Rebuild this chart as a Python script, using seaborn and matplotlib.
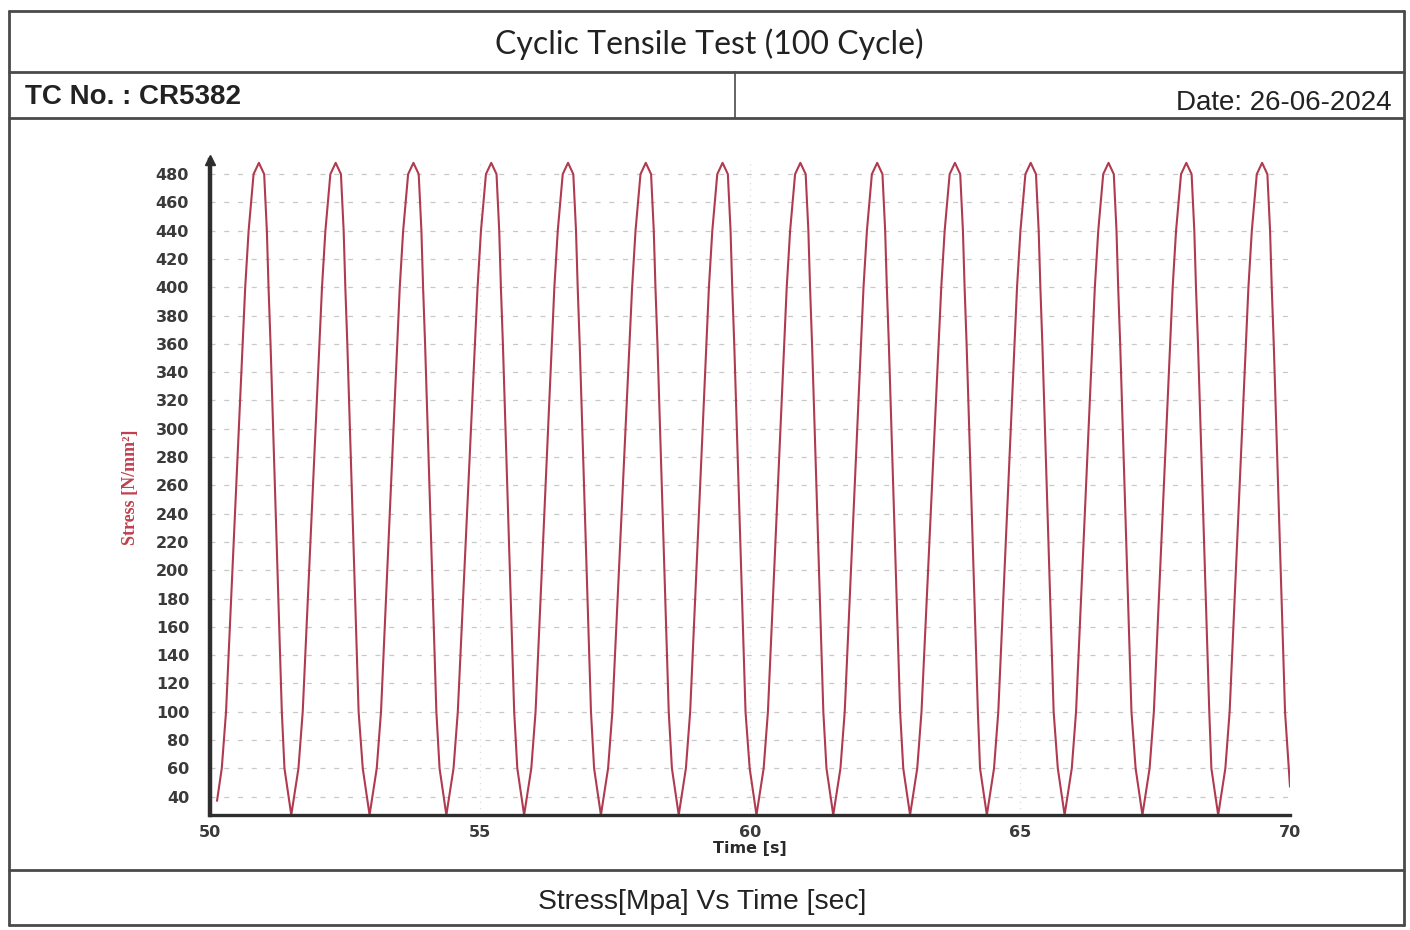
import matplotlib
matplotlib.use("Agg")
import matplotlib.pyplot as plt
from matplotlib.lines import Line2D
import seaborn as sns
import pandas as pd

# ---------------- data ----------------
time_s = [
    50.130, 50.218, 50.297, 50.604, 50.652, 50.715, 50.807, 50.905,
    51.003, 51.053, 51.084, 51.121, 51.330, 51.379, 51.505,
    51.638, 51.717, 52.026, 52.074, 52.137, 52.229, 52.327,
    52.425, 52.475, 52.506, 52.543, 52.752, 52.829, 52.955,
    53.088, 53.167, 53.466, 53.514, 53.577, 53.669, 53.767,
    53.865, 53.915, 53.946, 53.983, 54.192, 54.251, 54.377,
    54.510, 54.589, 54.907, 54.955, 55.018, 55.110, 55.208,
    55.306, 55.356, 55.387, 55.424, 55.633, 55.691, 55.817,
    55.950, 56.029, 56.329, 56.377, 56.440, 56.532, 56.630,
    56.728, 56.778, 56.809, 56.846, 57.055, 57.113, 57.239,
    57.372, 57.451, 57.769, 57.817, 57.880, 57.972, 58.070,
    58.168, 58.218, 58.249, 58.286, 58.495, 58.554, 58.680,
    58.813, 58.892, 59.191, 59.239, 59.302, 59.394, 59.492,
    59.590, 59.640, 59.671, 59.708, 59.917, 59.994, 60.120,
    60.253, 60.332, 60.632, 60.680, 60.743, 60.835, 60.933,
    61.031, 61.081, 61.112, 61.149, 61.358, 61.416, 61.542,
    61.675, 61.754, 62.054, 62.102, 62.165, 62.257, 62.355,
    62.453, 62.503, 62.534, 62.571, 62.780, 62.838, 62.964,
    63.097, 63.176, 63.494, 63.542, 63.605, 63.697, 63.795,
    63.893, 63.943, 63.974, 64.011, 64.220, 64.260, 64.386,
    64.519, 64.598, 64.897, 64.945, 65.008, 65.100, 65.198,
    65.296, 65.346, 65.377, 65.414, 65.623, 65.700, 65.826,
    65.959, 66.038, 66.338, 66.386, 66.449, 66.541, 66.639,
    66.737, 66.787, 66.818, 66.855, 67.064, 67.141, 67.267,
    67.400, 67.479, 67.779, 67.827, 67.890, 67.982, 68.080,
    68.178, 68.228, 68.259, 68.296, 68.505, 68.544, 68.670,
    68.803, 68.882, 69.182, 69.230, 69.293, 69.385, 69.483,
    69.581, 69.631, 69.662, 69.699, 69.908, 70.000,
]
stress = [
    37, 60, 100, 360, 400, 440, 480, 488,
    480, 440, 400, 360, 100, 60, 27,
    60, 100, 360, 400, 440, 480, 488,
    480, 440, 400, 360, 100, 60, 27,
    60, 100, 360, 400, 440, 480, 488,
    480, 440, 400, 360, 100, 60, 27,
    60, 100, 360, 400, 440, 480, 488,
    480, 440, 400, 360, 100, 60, 27,
    60, 100, 360, 400, 440, 480, 488,
    480, 440, 400, 360, 100, 60, 27,
    60, 100, 360, 400, 440, 480, 488,
    480, 440, 400, 360, 100, 60, 27,
    60, 100, 360, 400, 440, 480, 488,
    480, 440, 400, 360, 100, 60, 27,
    60, 100, 360, 400, 440, 480, 488,
    480, 440, 400, 360, 100, 60, 27,
    60, 100, 360, 400, 440, 480, 488,
    480, 440, 400, 360, 100, 60, 27,
    60, 100, 360, 400, 440, 480, 488,
    480, 440, 400, 360, 100, 60, 27,
    60, 100, 360, 400, 440, 480, 488,
    480, 440, 400, 360, 100, 60, 27,
    60, 100, 360, 400, 440, 480, 488,
    480, 440, 400, 360, 100, 60, 27,
    60, 100, 360, 400, 440, 480, 488,
    480, 440, 400, 360, 100, 60, 27,
    60, 100, 360, 400, 440, 480, 488,
    480, 440, 400, 360, 100, 47,
]
x_ticks = [50, 55, 60, 65, 70]
y_ticks = list(range(40, 481, 20))

title_text = "Cyclic Tensile Test (100 Cycle)"
tc_text = "TC No. : CR5382"
date_text = "Date: 26-06-2024"
footer_text = "Stress[Mpa] Vs Time [sec]"
x_label = "Time [s]"
y_label = "Stress [N/mm\u00b2]"

# ---------------- figure ----------------
sns.set_style("white")
plt.rcParams["font.family"] = ["DejaVu Sans"]

W, H = 1410, 930
fig = plt.figure(figsize=(W / 100, H / 100), dpi=100)
fig.patch.set_facecolor("white")


def fx(x):
    return x / W


def fy(y):
    return 1 - y / H


# table frame
frame_color = "#4a4a4a"
L, R = 9, 1404
for yy in (11, 72, 118, 870, 925):
    fig.add_artist(Line2D([fx(L), fx(R)], [fy(yy), fy(yy)], color=frame_color, lw=2.0))
for xx in (L, R):
    fig.add_artist(Line2D([fx(xx), fx(xx)], [fy(11), fy(925)], color=frame_color, lw=2.0))
fig.add_artist(Line2D([fx(735), fx(735)], [fy(72), fy(118)], color=frame_color, lw=1.2))

fig.text(fx(709), fy(44), title_text, ha="center", va="center", fontsize=23,
         family=["Lato", "DejaVu Sans"], color="#222222")
fig.text(fx(25), fy(97), tc_text, ha="left", va="center", fontsize=20,
         family=["Liberation Sans", "DejaVu Sans"], fontweight="bold", color="#222222")
fig.text(fx(1392), fy(103), date_text, ha="right", va="center", fontsize=20,
         family=["Liberation Sans", "DejaVu Sans"], color="#222222")
fig.text(fx(702), fy(902), footer_text, ha="center", va="center", fontsize=20.3,
         family=["Liberation Sans", "DejaVu Sans"], color="#222222")

# plot area
ax_left, ax_right, ax_top, ax_bottom = 210, 1290, 160, 815
ax = fig.add_axes([fx(ax_left), fy(ax_bottom), (ax_right - ax_left) / W, (ax_bottom - ax_top) / H])
ax.set_facecolor("white")

df = pd.DataFrame({"Time": time_s, "Stress": stress})
sns.lineplot(data=df, x="Time", y="Stress", ax=ax, color="#b03a50", linewidth=1.5,
             sort=False, estimator=None)

ax.set_xlim(50, 70)
ax.set_ylim(27, 490)
ax.set_xticks(x_ticks)
ax.set_yticks(y_ticks)
ax.set_xticklabels([str(v) for v in x_ticks])
ax.set_yticklabels([str(v) for v in y_ticks])

for side in ("top", "right"):
    ax.spines[side].set_visible(False)
ax.spines["left"].set_color("#2e2e2e")
ax.spines["left"].set_linewidth(3.2)
ax.spines["bottom"].set_color("#2e2e2e")
ax.spines["bottom"].set_linewidth(2.4)

ax.tick_params(axis="y", length=5, width=1, color="#888888", pad=10,
               labelsize=11.5, labelcolor="#3a3a3a")
ax.tick_params(axis="x", length=0, pad=7, labelsize=11.5, labelcolor="#3a3a3a")
for lab in ax.get_yticklabels() + ax.get_xticklabels():
    lab.set_fontweight("bold")

ax.yaxis.grid(True, color="#c8c8c8", linestyle=(0, (4, 7)), linewidth=0.9)
ax.xaxis.grid(True, color="#dddddd", linestyle=(0, (1, 4)), linewidth=0.9)
ax.set_axisbelow(True)

ax.set_xlabel(x_label, fontsize=11.5, fontweight="bold", color="#2a2a2a", labelpad=1)
ax.set_ylabel(y_label, fontsize=13, fontweight="bold", color="#c0404f",
              family=["Liberation Sans Narrow", "Liberation Serif", "DejaVu Sans"])
ax.yaxis.set_label_coords((139 - ax_left) / (ax_right - ax_left), 0.50)

# small arrow head on top of the y axis
ax.plot([50], [490], marker="^", color="#2e2e2e", markersize=7, clip_on=False, zorder=5)

fig.savefig("out.png", dpi=100, facecolor="white")
